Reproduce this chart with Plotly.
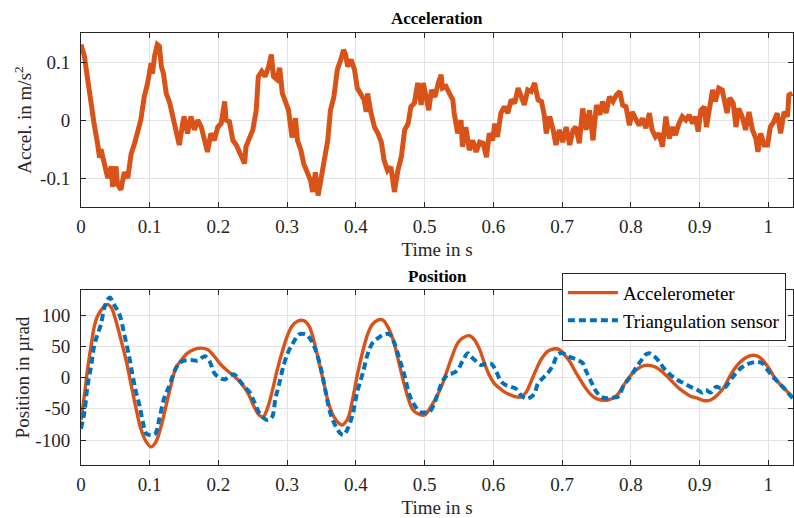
import plotly.graph_objects as go
from plotly.subplots import make_subplots

# ---------------- data ----------------
acc_t = [0, 0.005, 0.0097, 0.012, 0.0146, 0.019, 0.024, 0.027, 0.029, 0.034, 0.039, 0.044, 0.046,
         0.051, 0.053, 0.058, 0.063, 0.068, 0.073, 0.078, 0.083, 0.087, 0.092, 0.097, 0.102, 0.104,
         0.107, 0.111, 0.114, 0.117, 0.12, 0.124, 0.129, 0.133, 0.138, 0.143, 0.148, 0.15, 0.155,
         0.16, 0.165, 0.17, 0.175, 0.18, 0.184, 0.189, 0.194, 0.199, 0.204, 0.209, 0.211, 0.216,
         0.221, 0.226, 0.233, 0.238, 0.24, 0.245, 0.25, 0.255, 0.258, 0.263, 0.268, 0.273, 0.277,
         0.28, 0.285, 0.289, 0.293, 0.298, 0.302, 0.307, 0.312, 0.315, 0.32, 0.324, 0.329, 0.334,
         0.337, 0.341, 0.345, 0.349, 0.354, 0.359, 0.363, 0.368, 0.373, 0.378, 0.382, 0.385, 0.388,
         0.393, 0.398, 0.402, 0.407, 0.412, 0.415, 0.417, 0.422, 0.427, 0.432, 0.437, 0.441, 0.446,
         0.451, 0.456, 0.461, 0.466, 0.471, 0.476, 0.48, 0.485, 0.49, 0.495, 0.498, 0.502, 0.506,
         0.51, 0.515, 0.52, 0.524, 0.526, 0.531, 0.536, 0.541, 0.543, 0.546, 0.548, 0.553, 0.555,
         0.56, 0.565, 0.57, 0.575, 0.58, 0.585, 0.59, 0.594, 0.599, 0.602, 0.606, 0.611, 0.616,
         0.621, 0.626, 0.631, 0.636, 0.641, 0.645, 0.65, 0.655, 0.66, 0.665, 0.67, 0.674, 0.677,
         0.682, 0.687, 0.691, 0.696, 0.701, 0.706, 0.711, 0.716, 0.72, 0.725, 0.73, 0.735, 0.74,
         0.745, 0.75, 0.755, 0.759, 0.764, 0.769, 0.774, 0.779, 0.784, 0.788, 0.793, 0.798, 0.802,
         0.807, 0.812, 0.817, 0.822, 0.827, 0.831, 0.836, 0.841, 0.846, 0.851, 0.856, 0.861, 0.865,
         0.87, 0.875, 0.88, 0.885, 0.89, 0.894, 0.898, 0.902, 0.907, 0.91, 0.914, 0.919, 0.923,
         0.928, 0.933, 0.937, 0.94, 0.944, 0.949, 0.953, 0.957, 0.962, 0.967, 0.972, 0.977, 0.982,
         0.985, 0.989, 0.994, 0.999, 1.003, 1.008, 1.013, 1.018, 1.023, 1.028, 1.03, 1.035]
acc_v = [0.13, 0.11, 0.07, 0.05, 0.023, -0.006, -0.04, -0.065, -0.05, -0.08, -0.1, -0.08, -0.115,
         -0.08, -0.11, -0.12, -0.09, -0.1, -0.058, -0.04, -0.017, 0.0, 0.04, 0.064, 0.098, 0.08,
         0.11, 0.13, 0.127, 0.092, 0.08, 0.046, 0.03, 0.01, -0.017, -0.043, -0.006, 0.006, -0.023,
         0.006, -0.017, 0.0, -0.012, -0.035, -0.055, -0.023, -0.035, -0.012, -0.006, 0.032, 0.0,
         -0.003, -0.035, -0.043, -0.06, -0.075, -0.046, -0.03, -0.017, 0.017, 0.075, 0.084, 0.075,
         0.092, 0.113, 0.075, 0.07, 0.09, 0.046, 0.03, 0.017, -0.03, 0.003, -0.035, -0.052, -0.075,
         -0.092, -0.104, -0.124, -0.09, -0.13, -0.098, -0.069, -0.035, 0.017, 0.04, 0.087, 0.104,
         0.121, 0.113, 0.092, 0.104, 0.087, 0.055, 0.046, 0.035, 0.014, 0.046, 0.012, -0.012, -0.023,
         -0.038, -0.069, -0.087, -0.081, -0.124, -0.087, -0.064, -0.017, -0.006, 0.023, 0.029, 0.064,
         0.026, 0.064, 0.04, 0.017, 0.052, 0.04, 0.064, 0.078, 0.055, 0.058, 0.046, 0.035, 0.012,
         -0.006, -0.023, 0.0, -0.046, -0.012, -0.052, -0.035, -0.055, -0.038, -0.04, -0.064, -0.023,
         -0.035, -0.006, -0.029, 0.012, 0.023, 0.012, 0.035, 0.029, 0.055, 0.035, 0.026, 0.052, 0.049,
         0.064, 0.035, 0.032, 0.009, -0.023, 0.006, -0.017, -0.043, -0.017, -0.038, -0.012, -0.043,
         -0.017, -0.012, -0.04, 0.02, -0.017, 0.017, -0.035, 0.026, 0.009, 0.032, 0.012, 0.04, 0.032,
         0.043, 0.049, 0.026, 0.023, -0.009, 0.014, 0.0, -0.009, 0.003, -0.014, 0.012, -0.017, -0.029,
         -0.023, -0.046, 0.006, -0.032, -0.012, -0.026, -0.006, 0.006, 0.0, 0.009, -0.006, 0.006,
         -0.02, 0.017, 0.023, -0.012, 0.017, 0.052, 0.032, 0.055, 0.052, 0.029, 0.012, 0.038, 0.029,
         -0.012, 0.02, 0.006, -0.017, 0.014, -0.017, -0.032, -0.055, -0.023, -0.043, -0.043, -0.012,
         -0.003, 0.012, -0.023, 0.014, 0.006, 0.043, 0.046]

pos_acc_t = [0, 0.005, 0.0097, 0.015, 0.019, 0.024, 0.032, 0.038, 0.044, 0.051, 0.058, 0.066, 0.073,
             0.08, 0.087, 0.095, 0.102, 0.109, 0.117, 0.124, 0.131, 0.138, 0.146, 0.155, 0.165,
             0.175, 0.184, 0.194, 0.204, 0.214, 0.223, 0.233, 0.243, 0.252, 0.259, 0.265, 0.271,
             0.278, 0.285, 0.293, 0.3, 0.307, 0.315, 0.324, 0.332, 0.339, 0.346, 0.354, 0.361,
             0.368, 0.376, 0.38, 0.388, 0.395, 0.402, 0.41, 0.417, 0.424, 0.432, 0.439, 0.446,
             0.454, 0.461, 0.468, 0.476, 0.483, 0.49, 0.5, 0.51, 0.519, 0.526, 0.533, 0.541, 0.548,
             0.555, 0.565, 0.572, 0.58, 0.587, 0.594, 0.601, 0.609, 0.616, 0.623, 0.633, 0.64,
             0.648, 0.655, 0.662, 0.669, 0.679, 0.689, 0.696, 0.703, 0.711, 0.718, 0.725, 0.733,
             0.74, 0.747, 0.757, 0.767, 0.774, 0.781, 0.79, 0.8, 0.81, 0.819, 0.829, 0.839, 0.848,
             0.858, 0.868, 0.877, 0.887, 0.897, 0.906, 0.916, 0.926, 0.936, 0.945, 0.955, 0.965,
             0.974, 0.982, 0.989, 0.999, 1.008, 1.018, 1.028, 1.036]
pos_acc_v = [-68, -28, 15, 53, 80, 98, 112, 117, 112, 90, 61, 26, -12, -49, -82, -103, -111, -103,
             -76, -44, -12, 15, 28, 39, 45, 47, 45, 34, 20, 10, 2, -9, -25, -47, -60, -63, -50, -23,
             10, 42, 66, 82, 90, 91, 82, 58, 26, -12, -44, -63, -74, -76, -66, -36, 4, 42, 69, 85,
             92, 92, 82, 61, 31, -1, -33, -52, -58, -60, -45, -27, -10, 12, 37, 55, 63, 67, 61, 45,
             23, 4, -9, -17, -23, -27, -31, -31, -23, -6, 12, 28, 42, 46, 45, 37, 26, 12, -1, -15,
             -25, -32, -36, -36, -33, -27, -12, 4, 14, 19, 19, 15, 7, -4, -15, -23, -30, -33, -37,
             -36, -28, -15, 4, 20, 30, 35, 35, 31, 18, 2, -12, -23, -32]

pos_tri_t = [0, 0.005, 0.0097, 0.015, 0.019, 0.024, 0.029, 0.034, 0.039, 0.042, 0.048, 0.056, 0.063,
             0.07, 0.075, 0.08, 0.085, 0.09, 0.095, 0.102, 0.108, 0.114, 0.121, 0.129, 0.136, 0.143,
             0.15, 0.16, 0.17, 0.18, 0.187, 0.194, 0.201, 0.209, 0.216, 0.223, 0.23, 0.238, 0.245,
             0.252, 0.26, 0.266, 0.271, 0.278, 0.283, 0.288, 0.295, 0.302, 0.31, 0.317, 0.327, 0.334,
             0.341, 0.349, 0.356, 0.363, 0.371, 0.378, 0.382, 0.388, 0.395, 0.402, 0.41, 0.417,
             0.424, 0.432, 0.441, 0.449, 0.456, 0.463, 0.471, 0.478, 0.485, 0.493, 0.5, 0.507,
             0.515, 0.521, 0.526, 0.533, 0.541, 0.548, 0.555, 0.563, 0.567, 0.575, 0.582, 0.589,
             0.597, 0.604, 0.611, 0.618, 0.626, 0.633, 0.64, 0.648, 0.655, 0.66, 0.665, 0.672,
             0.679, 0.686, 0.694, 0.701, 0.708, 0.716, 0.723, 0.73, 0.735, 0.742, 0.75, 0.757,
             0.764, 0.771, 0.781, 0.79, 0.8, 0.807, 0.815, 0.822, 0.827, 0.834, 0.841, 0.848, 0.858,
             0.868, 0.877, 0.887, 0.897, 0.904, 0.909, 0.916, 0.924, 0.931, 0.938, 0.945, 0.953,
             0.96, 0.967, 0.974, 0.984, 0.991, 0.999, 1.006, 1.013, 1.023, 1.036]
pos_tri_v = [-82, -55, -12, 20, 50, 69, 85, 112, 125, 128, 117, 101, 69, 34, 4, -23, -44, -71, -90,
             -92, -90, -66, -33, -12, 10, 23, 27, 28, 27, 34, 26, 7, 0, -3, 2, 5, -4, -15, -23, -39,
             -58, -65, -68, -63, -33, -12, 20, 42, 58, 69, 69, 61, 45, 15, -23, -58, -79, -90, -92,
             -82, -60, -23, 7, 37, 55, 63, 69, 69, 55, 31, 2, -28, -44, -55, -56, -55, -39, -20, -6,
             4, 7, 12, 26, 39, 34, 26, 20, 22, 22, 10, -6, -12, -15, -18, -28, -34, -31, -25, -9,
             -1, 7, 18, 37, 39, 34, 31, 28, 23, 10, -6, -23, -31, -33, -32, -31, -12, 2, 15, 27, 37,
             39, 34, 26, 15, 4, -4, -9, -15, -20, -24, -20, -24, -15, -17, -15, -4, 7, 15, 20, 23,
             25, 23, 12, 2, -6, -17, -34]

x_ticks = [0, 0.1, 0.2, 0.3, 0.4, 0.5, 0.6, 0.7, 0.8, 0.9, 1.0]
x_tick_labels = ["0", "0.1", "0.2", "0.3", "0.4", "0.5", "0.6", "0.7", "0.8", "0.9", "1"]
acc_ticks = [-0.1, 0, 0.1]
acc_tick_labels = ["-0.1", "0", "0.1"]
pos_ticks = [-100, -50, 0, 50, 100]
pos_tick_labels = ["-100", "-50", "0", "50", "100"]

ORANGE = "#D95319"
BLUE = "#0072BD"
AXC = "#262626"
GRID = "#e3e3e3"
FONT = "Liberation Serif, Times New Roman, serif"
TICK_SIZE = 19

# ---------------- figure ----------------
fig = make_subplots(rows=2, cols=1, vertical_spacing=0.0)

fig.add_trace(go.Scatter(x=acc_t, y=acc_v, mode="lines", showlegend=False,
                         line=dict(color=ORANGE, width=5)), row=1, col=1)
fig.add_trace(go.Scatter(x=pos_acc_t, y=pos_acc_v, mode="lines", name="Accelerometer",
                         line=dict(color=ORANGE, width=3.4, shape="spline")), row=2, col=1)
fig.add_trace(go.Scatter(x=pos_tri_t, y=pos_tri_v, mode="lines", name="Triangulation sensor",
                         line=dict(color=BLUE, width=4, dash="7px,4px", shape="spline")),
              row=2, col=1)

axis_common = dict(showline=True, linecolor=AXC, linewidth=1, mirror="ticks",
                   ticks="inside", ticklen=5, tickcolor=AXC, showgrid=True, gridcolor=GRID,
                   gridwidth=1, zeroline=False, automargin=False,
                   tickfont=dict(family=FONT, size=TICK_SIZE, color=AXC))

fig.update_xaxes(**axis_common, range=[0, 1.036], tickvals=x_ticks, ticktext=x_tick_labels,
                 ticklabelstandoff=2,
                 title=dict(text="Time in s", font=dict(family=FONT, size=TICK_SIZE, color=AXC),
                            standoff=6))
fig.update_yaxes(**axis_common, ticklabelstandoff=6)
fig.update_xaxes(domain=[0, 1])
fig.update_yaxes(row=1, col=1, domain=[0.597, 1.0], range=[-0.15, 0.15],
                 tickvals=acc_ticks, ticktext=acc_tick_labels,
                 title=dict(text="Accel. in m/s<sup>2</sup>",
                            font=dict(family=FONT, size=TICK_SIZE, color=AXC), standoff=3))
fig.update_yaxes(row=2, col=1, domain=[0.0, 0.405], range=[-140, 140],
                 tickvals=pos_ticks, ticktext=pos_tick_labels,
                 title=dict(text="Position in µrad",
                            font=dict(family=FONT, size=TICK_SIZE, color=AXC), standoff=0))

fig.add_annotation(text="<b>Acceleration</b>", xref="paper", yref="paper", x=0.5, y=1.0,
                   xanchor="center", yanchor="bottom", yshift=3, showarrow=False,
                   font=dict(family=FONT, size=17, color="#000000"))
fig.add_annotation(text="<b>Position</b>", xref="paper", yref="paper", x=0.5, y=0.405,
                   xanchor="center", yanchor="bottom", yshift=2, showarrow=False,
                   font=dict(family=FONT, size=17, color="#000000"))

fig.update_layout(
    width=794, height=518,
    margin=dict(l=81, r=1, t=33, b=53, autoexpand=False),
    paper_bgcolor="white", plot_bgcolor="white",
    font=dict(family=FONT, size=TICK_SIZE, color=AXC),
    legend=dict(x=0.99, y=0.445, xanchor="right", yanchor="top",
                bgcolor="white", bordercolor=AXC, borderwidth=1,
                font=dict(family=FONT, size=19, color="#000000"),
                tracegroupgap=0, itemwidth=50),
)

fig.write_html("out.html", config={"displayModeBar": False},
               post_script="document.body.style.margin='0';document.body.style.overflow='hidden';")
